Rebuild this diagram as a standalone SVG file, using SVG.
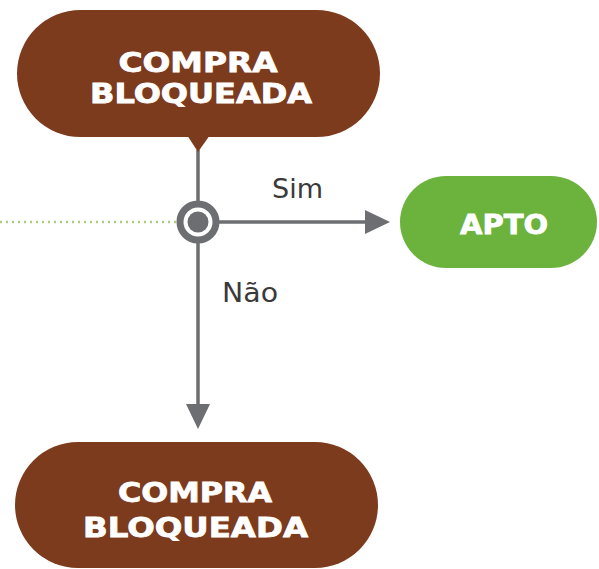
<svg xmlns="http://www.w3.org/2000/svg" width="599" height="569" viewBox="0 0 599 569">
<style>
.brown{fill:#7d3b1e}
.green{fill:#6cb33e}
.lbl{font-family:"DejaVu Sans","Liberation Sans",sans-serif;font-weight:bold;font-size:27px;fill:#ffffff;stroke:#ffffff;stroke-width:0.8;text-anchor:middle}
.edge{font-family:"DejaVu Sans","Liberation Sans",sans-serif;font-size:26px;fill:#3a3a3a}
.ln{stroke:#6d6e71;stroke-width:3.5;fill:none}
</style>
<rect width="599" height="569" fill="#ffffff"/>
<g id="connectors">
<line x1="0" y1="222" x2="176" y2="222" stroke="#a9d07c" stroke-width="2.5" stroke-dasharray="2 4"/>
<line class="ln" x1="198" y1="150" x2="198" y2="405"/>
<path d="M186,404 L210,404 L198,429 Z" fill="#6d6e71"/>
<line class="ln" x1="218" y1="222" x2="368" y2="222"/>
<path d="M365,210 L390,222 L365,234 Z" fill="#6d6e71"/>
<text class="edge" x="272" y="198" textLength="51" lengthAdjust="spacingAndGlyphs">Sim</text>
<text class="edge" x="222" y="302" textLength="56" lengthAdjust="spacingAndGlyphs">Não</text>
</g>
<g id="node-top">
<rect class="brown" x="17" y="10" width="363" height="127" rx="63.5"/>
<path class="brown" d="M187,135 L210,135 L198,152 Z"/>
<text class="lbl" x="198" y="72" textLength="159" lengthAdjust="spacingAndGlyphs">COMPRA</text>
<text class="lbl" x="201" y="103" textLength="222" lengthAdjust="spacingAndGlyphs">BLOQUEADA</text>
</g>
<g id="node-junction">
<circle cx="198" cy="222" r="18" fill="#ffffff" stroke="#6d6e71" stroke-width="7"/>
<circle cx="198" cy="222" r="10.5" fill="#6d6e71"/>
</g>
<g id="node-apto">
<rect class="green" x="400" y="176" width="197" height="92" rx="46"/>
<text class="lbl" x="504" y="234" textLength="88" lengthAdjust="spacingAndGlyphs">APTO</text>
</g>
<g id="node-bottom">
<rect class="brown" x="15" y="442" width="363" height="126" rx="63"/>
<text class="lbl" x="195" y="502" textLength="154" lengthAdjust="spacingAndGlyphs">COMPRA</text>
<text class="lbl" x="195.5" y="537" textLength="225" lengthAdjust="spacingAndGlyphs">BLOQUEADA</text>
</g>
</svg>
